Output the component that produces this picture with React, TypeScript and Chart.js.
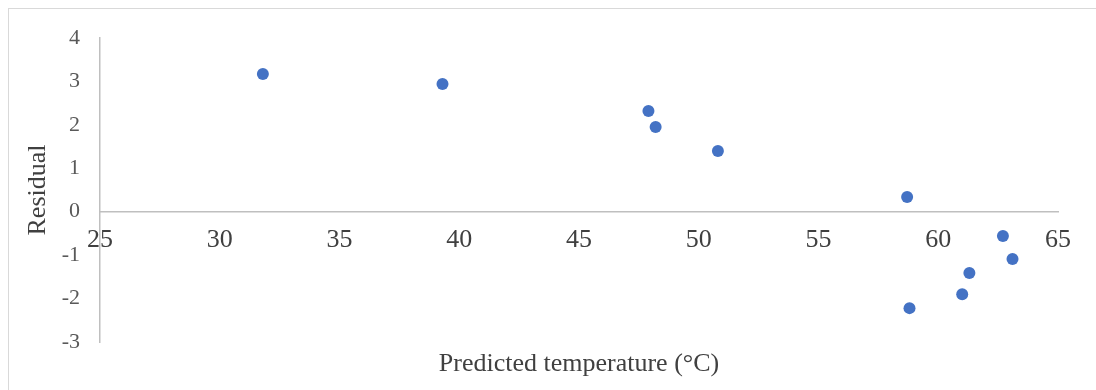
import React, { useEffect, useRef } from "react";
import { Chart, registerables } from "chart.js";

Chart.register(...registerables);

const predicted: number[] = [31.8, 39.3, 47.9, 48.2, 50.8, 58.7, 58.8, 61.0, 61.3, 62.7, 63.1];
const residual: number[] = [3.17, 2.94, 2.32, 1.95, 1.40, 0.34, -2.22, -1.90, -1.41, -0.56, -1.09];

const xTitle = "Predicted temperature (°C)";
const yTitle = "Residual";
const xMin = 25;
const xMax = 65;
const xStep = 5;
const yMin = -3;
const yMax = 4;
const yStep = 1;

const FONT = "'Liberation Serif', 'Times New Roman', serif";

export default function App() {
  const ref = useRef<HTMLCanvasElement | null>(null);

  useEffect(() => {
    if (!ref.current) return;
    const points = predicted.map((x, i) => ({ x, y: residual[i] }));

    const xTitlePlugin = {
      id: "xTitlePlugin",
      afterDraw(chart: any) {
        const { ctx, chartArea } = chart;
        ctx.save();
        ctx.font = `26px ${FONT}`;
        ctx.fillStyle = "#404040";
        ctx.textAlign = "center";
        ctx.textBaseline = "alphabetic";
        ctx.fillText(xTitle, (chartArea.left + chartArea.right) / 2, 362);
        ctx.restore();
      },
    };

    const chart = new Chart(ref.current, {
      type: "scatter",
      data: {
        datasets: [
          {
            data: points,
            backgroundColor: "#4472C4",
            borderColor: "#4472C4",
            pointRadius: 6,
            pointHoverRadius: 6,
            borderWidth: 0,
          },
        ],
      },
      options: {
        animation: false,
        responsive: false,
        maintainAspectRatio: false,
        events: [],
        layout: { padding: { left: 0, top: 29, right: 51, bottom: 67 } },
        plugins: {
          legend: { display: false },
          tooltip: { enabled: false },
          title: { display: false },
        },
        scales: {
          x: {
            type: "linear",
            position: { y: 0 } as any,
            min: xMin,
            max: xMax,
            grid: { display: false, drawTicks: false },
            border: { display: true, color: "#bfbfbf", width: 1.5 },
            ticks: {
              stepSize: xStep,
              padding: 13,
              color: "#404040",
              font: { family: FONT, size: 26 },
              maxRotation: 0,
            },
            afterFit(scale: any) {
              scale.paddingLeft = 0;
              scale.paddingRight = 0;
            },
          },
          y: {
            type: "linear",
            min: yMin,
            max: yMax,
            grid: { display: false, drawTicks: false },
            border: { display: true, color: "#bfbfbf", width: 1.5 },
            ticks: {
              stepSize: yStep,
              padding: 20,
              color: "#595959",
              font: { family: FONT, size: 22 },
            },
            title: {
              display: true,
              text: yTitle,
              color: "#404040",
              font: { family: FONT, size: 26 },
              padding: { top: 14, bottom: 0 },
            },
            afterFit(scale: any) {
              scale.width = 91;
              scale.paddingTop = 0;
              scale.paddingBottom = 0;
            },
          },
        },
      },
      plugins: [xTitlePlugin],
    });
    return () => chart.destroy();
  }, []);

  return (
    <div
      style={{
        position: "fixed",
        left: 8,
        top: 8,
        width: 1100,
        height: 400,
        boxSizing: "border-box",
        borderTop: "1px solid #d9d9d9",
        borderLeft: "1px solid #d9d9d9",
        background: "#fff",
        overflow: "hidden",
      }}
    >
      <canvas ref={ref} width={1100} height={400} style={{ display: "block" }} />
    </div>
  );
}
